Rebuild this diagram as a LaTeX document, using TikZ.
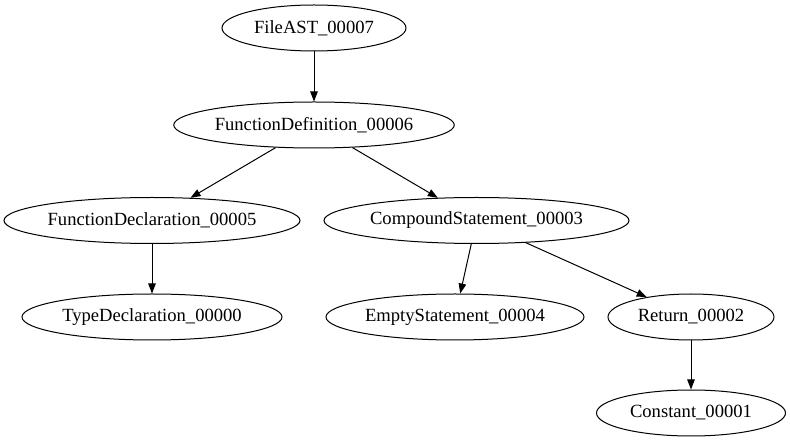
\documentclass[tikz,border=0pt]{standalone}
\usepackage{fontspec}
\setmainfont{Liberation Serif}
\usetikzlibrary{shapes.geometric,arrows.meta}
\begin{document}
\begin{tikzpicture}[x=1pt,y=-1pt,
  gnode/.style={ellipse,draw,line width=1pt,inner sep=0pt,minimum height=46pt,
    font=\fontsize{18.6}{20}\selectfont},
  gedge/.style={line width=1pt,-{Triangle[length=10pt,width=7.5pt]}}]
\useasboundingbox (0,0) rectangle (790,443);
\node[gnode,minimum width=184pt] (n7) at (314,28) {FileAST\_00007};
\node[gnode,minimum width=279pt] (n6) at (314,125) {FunctionDefinition\_00006};
\node[gnode,minimum width=296pt] (n5) at (152,220.5) {FunctionDeclaration\_00005};
\node[gnode,minimum width=305pt] (n3) at (476.5,220.5) {CompoundStatement\_00003};
\node[gnode,minimum width=260pt] (n0) at (152,317) {TypeDeclaration\_00000};
\node[gnode,minimum width=258pt] (n4) at (455,317) {EmptyStatement\_00004};
\node[gnode,minimum width=166pt] (n2) at (691,317) {Return\_00002};
\node[gnode,minimum width=189pt] (n1) at (691,413) {Constant\_00001};
\draw[gedge] (n7) -- (n6);
\draw[gedge] (n6) -- (n5);
\draw[gedge] (n6) -- (n3);
\draw[gedge] (n5) -- (n0);
\draw[gedge] (n3) -- (n4);
\draw[gedge] (n3) -- (n2);
\draw[gedge] (n2) -- (n1);
\end{tikzpicture}
\end{document}
